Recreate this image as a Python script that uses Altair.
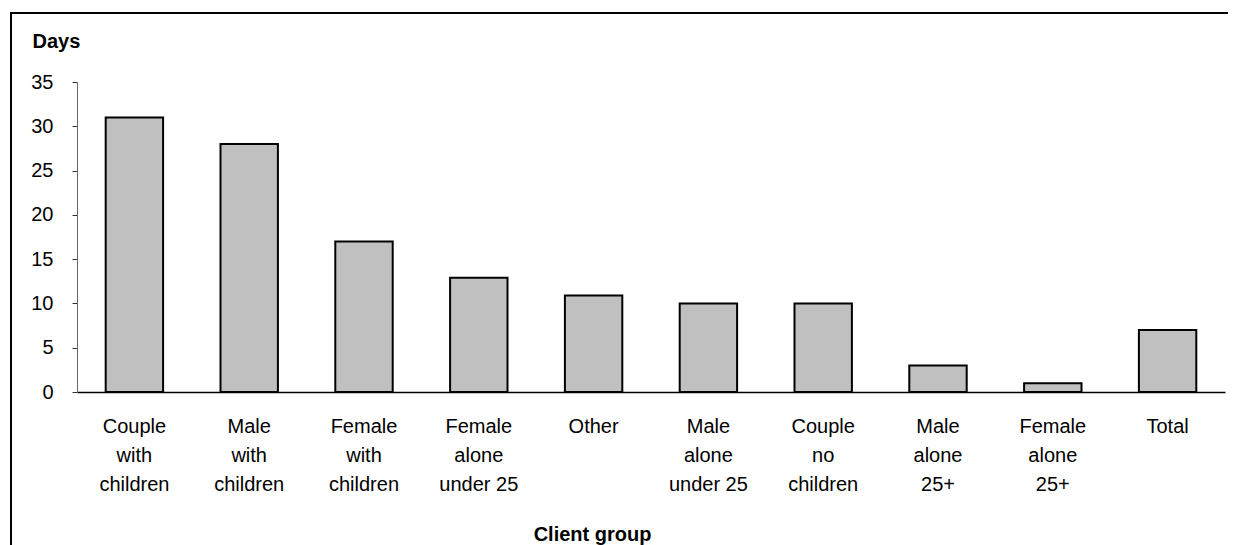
import altair as alt
import pandas as pd

categories = [
    "Couple|with|children",
    "Male|with|children",
    "Female|with|children",
    "Female|alone|under 25",
    "Other",
    "Male|alone|under 25",
    "Couple|no|children",
    "Male|alone|25+",
    "Female|alone|25+",
    "Total",
]
days = [31, 28, 17, 12.9, 10.9, 10, 10, 3, 1, 7]
y_ticks = [0, 5, 10, 15, 20, 25, 30, 35]

W, H = 1148, 310
FONT = "Liberation Sans"

df = pd.DataFrame({"group": categories, "days": days})

bars = alt.Chart(df).mark_bar(
    color="#C0C0C0", stroke="#000000", strokeWidth=2
).encode(
    x=alt.X(
        "group:N",
        sort=categories,
        scale=alt.Scale(paddingInner=0.5, paddingOuter=0.25),
        axis=alt.Axis(
            title="Client group",
            labelExpr="split(datum.label, '|')",
            labelAngle=0,
            labelAlign="center",
            labelBaseline="top",
            labelPadding=24,
            labelLineHeight=29,
            labelFontSize=20,
            labelFont=FONT,
            labelColor="#000000",
            ticks=False,
            domainColor="#000000",
            domainWidth=1.5,
            titleFont=FONT,
            titleFontSize=20,
            titleFontWeight="bold",
            titleColor="#000000",
            titleX=515,
            titleY=148,
            titleBaseline="alphabetic",
            titleAlign="center",
            labelLimit=300,
        ),
    ),
    y=alt.Y(
        "days:Q",
        scale=alt.Scale(domain=[0, 35], nice=False),
        axis=alt.Axis(
            title="Days",
            values=y_ticks,
            grid=False,
            tickSize=5,
            tickColor="#333333",
            domainColor="#666666",
            labelPadding=19,
            labelFontSize=20,
            labelFont=FONT,
            labelColor="#000000",
            titleFont=FONT,
            titleFontSize=20,
            titleFontWeight="bold",
            titleColor="#000000",
            titleAngle=0,
            titleAlign="left",
            titleBaseline="alphabetic",
            titleX=-45,
            titleY=-35,
        ),
    ),
)

frame_df = pd.DataFrame({"k": [0]})
left_line = alt.Chart(frame_df).mark_rule(color="#000000", strokeWidth=2).encode(
    x=alt.value(-66), y=alt.value(-69), y2=alt.value(470)
)
top_line = alt.Chart(frame_df).mark_rule(color="#000000", strokeWidth=2).encode(
    x=alt.value(-67), x2=alt.value(1160), y=alt.value(-69)
)

chart = alt.layer(bars, left_line, top_line).properties(
    width=W,
    height=H,
    background="#FFFFFF",
    padding={"left": 69, "top": 74, "right": 3, "bottom": 153},
    autosize=alt.AutoSizeParams(type="none"),
).configure_view(strokeWidth=0, stroke="transparent")

chart.save("out.html", embed_options={"renderer": "svg", "actions": False})
